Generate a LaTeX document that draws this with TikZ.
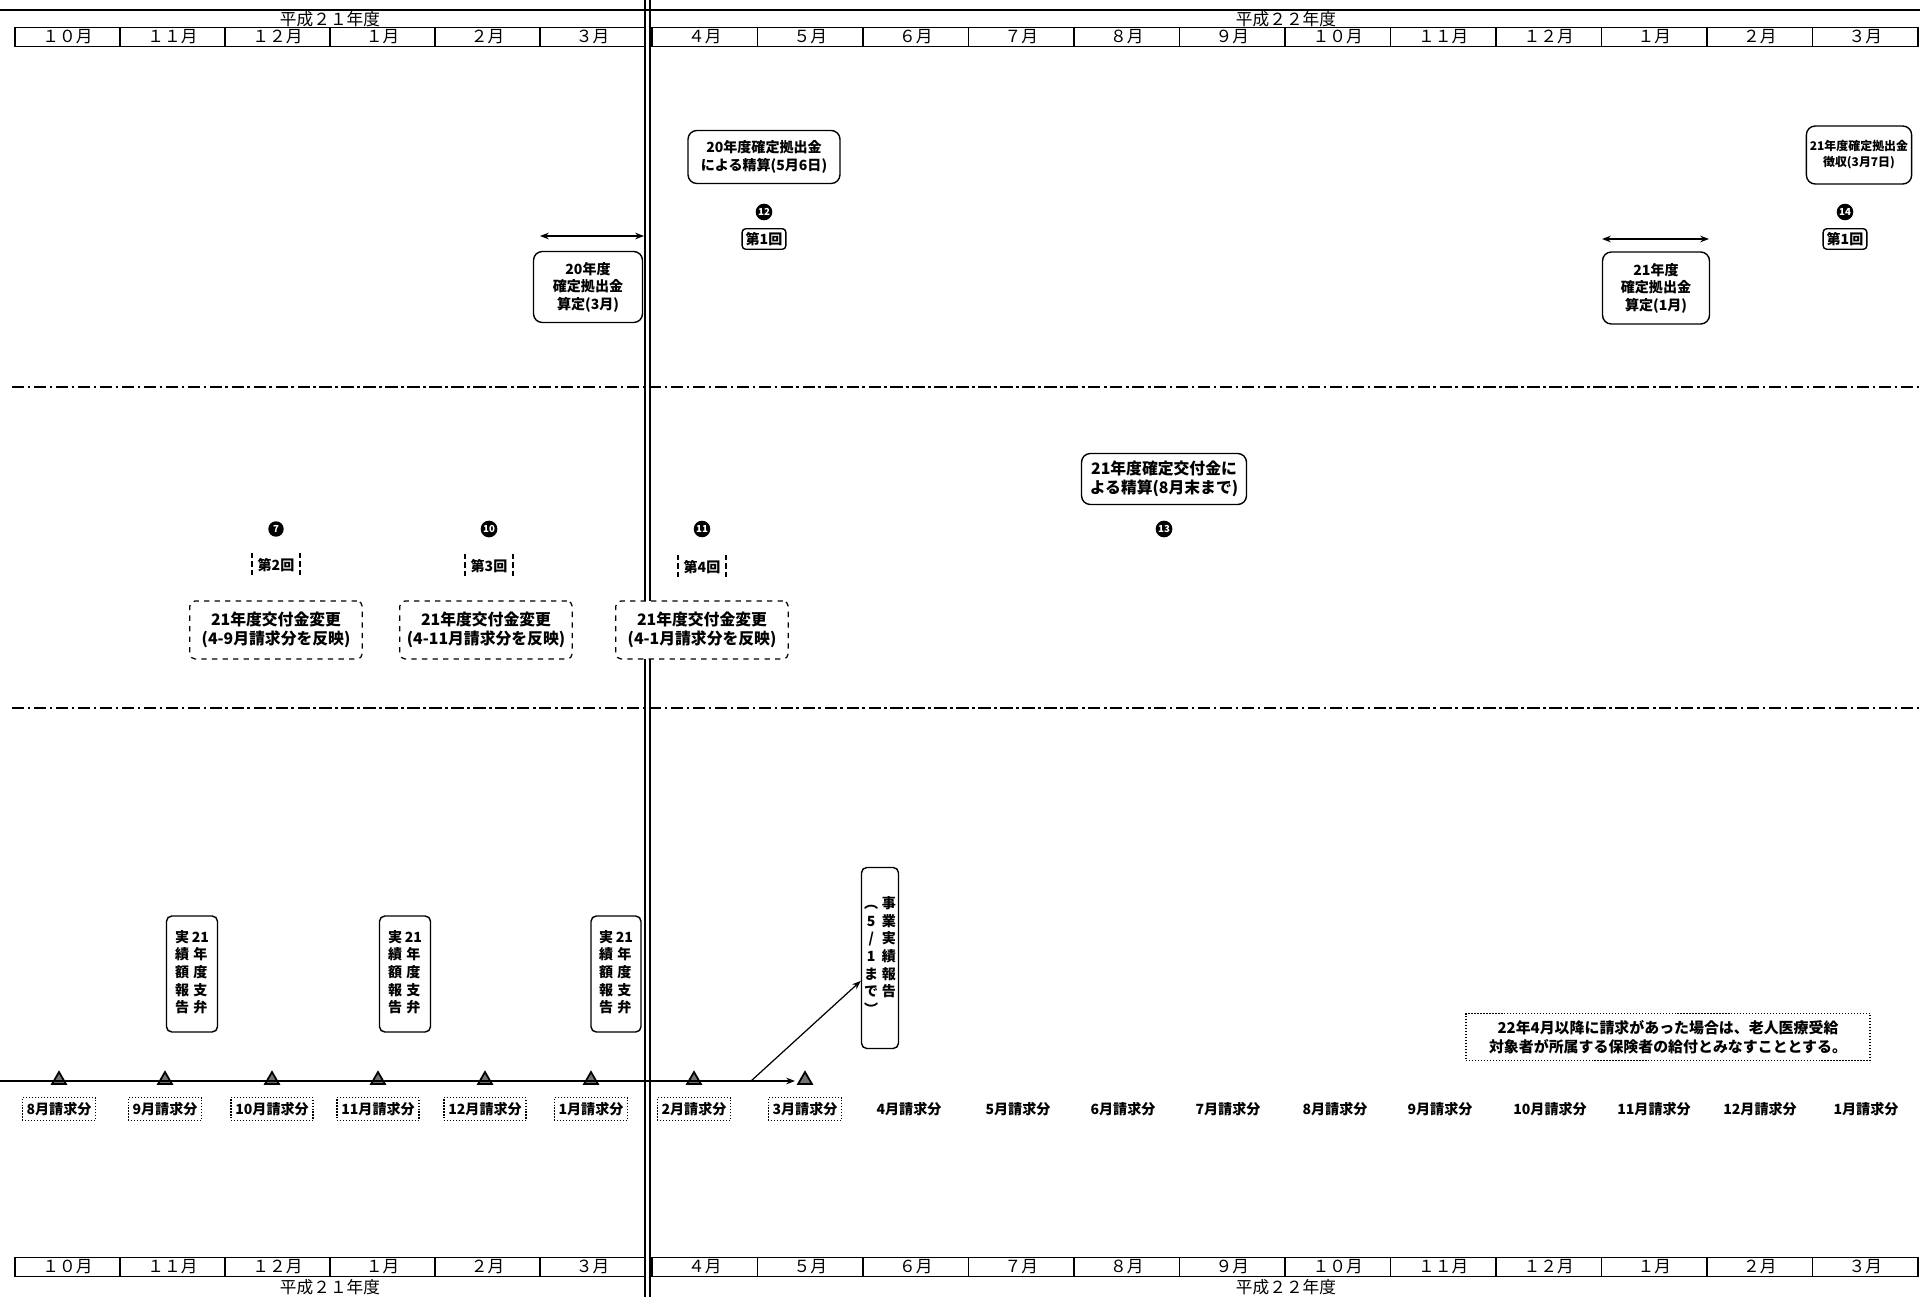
\documentclass[tikz,border=0pt]{standalone}
\usepackage{fontspec}
\setmainfont{Noto Sans CJK JP}
\usepackage{tikz}
\usetikzlibrary{arrows.meta}
\usetikzlibrary{shapes.geometric}

\tikzset{
  mes/.style={draw, line width=0.6pt, minimum width=2.1cm, minimum height=0.38cm, inner sep=0pt, font=\fontsize{9.5}{11}\selectfont},
  caja/.style={draw, fill=white, line width=0.8pt, rounded corners=5pt, align=center, inner sep=2pt, font=\bfseries\fontsize{8}{10}\selectfont},
  henko/.style={draw, fill=white, dashed, line width=0.7pt, rounded corners=3pt, align=center, minimum width=3.45cm, minimum height=1.16cm, font=\bfseries\fontsize{9}{11}\selectfont},
  vez/.style={draw, line width=0.8pt, rounded corners=2pt, inner sep=2pt, font=\bfseries\fontsize{8}{10}\selectfont},
  kai/.style={inner sep=3pt, font=\bfseries\fontsize{8}{10}\selectfont},
  num/.style={circle, draw, fill=black, text=white, line width=0.8pt, inner sep=0.3pt, minimum size=0.28cm, font=\bfseries\fontsize{5.5}{5.5}\selectfont},
  vert/.style={draw, fill=white, line width=0.8pt, rounded corners=3pt, inner sep=1.5pt, font=\bfseries\fontsize{8}{10}\selectfont},
  tri/.style={regular polygon, regular polygon sides=3, draw, fill=black!55, line width=1pt, minimum size=0.32cm, inner sep=0pt},
  seikyu/.style={draw, densely dotted, line width=0.7pt, inner sep=2.5pt, font=\bfseries\fontsize{8}{10}\selectfont},
  divisoria/.style={line width=1.2pt, dash pattern=on 7pt off 2pt on 1.5pt off 2pt}
}

\begin{document}
\begin{tikzpicture}[x=0.02cm, y=-0.02cm, >={Stealth[length=5pt]}]
\useasboundingbox (0,0) rectangle (1920,1297);

% Meses arriba y abajo
\draw[line width=0.8pt] (0,10) -- (1920,10);
\node[font=\fontsize{9.5}{11}\selectfont] (a21) at (330,19) {平成２１年度};
\node[font=\fontsize{9.5}{11}\selectfont] (a22) at (1286,19) {平成２２年度};
\node[font=\fontsize{9.5}{11}\selectfont] (b21) at (330,1287) {平成２１年度};
\node[font=\fontsize{9.5}{11}\selectfont] (b22) at (1286,1287) {平成２２年度};
\foreach \i/\m in {0/１０月,1/１１月,2/１２月,3/１月,4/２月,5/３月}{
  \node[mes] (tm\i) at (67.5+105*\i,37) {\m};
  \node[mes] (bm\i) at (67.5+105*\i,1267) {\m};
}
\foreach \j/\m in {0/４月,1/５月,2/６月,3/７月,4/８月,5/９月,6/１０月,7/１１月,8/１２月,9/１月,10/２月,11/３月}{
  \node[mes, minimum width=2.11cm] (tn\j) at (704.75+105.5*\j,37) {\m};
  \node[mes, minimum width=2.11cm] (bn\j) at (704.75+105.5*\j,1267) {\m};
}
\draw[line width=0.8pt] (645,0) -- (645,1297) (650,0) -- (650,1297);

\draw[divisoria] (12,387) -- (1920,387);
\draw[divisoria] (12,708) -- (1920,708);

% Arriba: 拠出金
\node[caja, minimum width=3.04cm, minimum height=1.06cm] (p20) at (764,157) {20年度確定拠出金\\による精算(5月6日)};
\node[num] (c12) at (764,212) {12};
\node[vez] (v1a) at (764,239) {第1回};
\node[caja, minimum width=2.18cm, minimum height=1.42cm] (s20) at (588,287) {20年度\\確定拠出金\\算定(3月)};
\coordinate (d1) at (540,236);
\coordinate (d2) at (644,236);

\node[caja, font=\bfseries\fontsize{6.8}{9}\selectfont, minimum width=2.04cm, minimum height=1.16cm] (c21) at (1859,155) {21年度確定拠出金\\徴収(3月7日)};
\node[num] (c14) at (1845,212) {14};
\node[vez] (v1b) at (1845,239) {第1回};
\node[caja, minimum width=2.14cm, minimum height=1.44cm] (s21) at (1656,288) {21年度\\確定拠出金\\算定(1月)};
\coordinate (d3) at (1602,239);
\coordinate (d4) at (1709,239);

% Medio: 交付金
\node[caja, font=\bfseries\fontsize{9}{11}\selectfont, minimum width=3.3cm, minimum height=1.02cm] (f21) at (1164,479) {21年度確定交付金に\\よる精算(8月末まで)};
\node[num] (c13) at (1164,529) {13};
\node[num] (c7) at (276,529) {7};
\node[num] (c10) at (489,529) {10};
\node[num] (c11) at (702,529) {11};
\node[kai] (k2) at (276,565) {第2回};
\node[kai] (k3) at (489,566) {第3回};
\node[kai] (k4) at (702,567) {第4回};
\node[henko] (h2) at (276,630) {21年度交付金変更\\(4-9月請求分を反映)};
\node[henko] (h3) at (486,630) {21年度交付金変更\\(4-11月請求分を反映)};
\node[henko] (h4) at (702,630) {21年度交付金変更\\(4-1月請求分を反映)};

% Abajo: 請求
\node[vert, minimum width=1.02cm, minimum height=2.32cm] (r1) at (192,974) {\begin{tabular}{@{}c@{\hspace{1.5pt}}c@{}}実&21\\績&年\\額&度\\報&支\\告&弁\end{tabular}};
\node[vert, minimum width=1.02cm, minimum height=2.32cm] (r2) at (405,974) {\begin{tabular}{@{}c@{\hspace{1.5pt}}c@{}}実&21\\績&年\\額&度\\報&支\\告&弁\end{tabular}};
\node[vert, minimum width=1.0cm, minimum height=2.32cm] (r3) at (616,974) {\begin{tabular}{@{}c@{\hspace{1.5pt}}c@{}}実&21\\績&年\\額&度\\報&支\\告&弁\end{tabular}};
\node[vert, minimum width=0.74cm, minimum height=3.62cm] (jg) at (880,958) {\begin{tabular}{@{}c@{\hspace{2pt}}c@{}}︵&事\\5&業\\/&実\\1&績\\ま&報\\で&告\\︶&\end{tabular}};

\coordinate (l0) at (0,1081);
\coordinate (l1) at (795,1081);
\coordinate (t0) at (751,1081);
\foreach \i/\x in {1/59,2/165,3/272,4/378,5/485,6/591,7/694,8/805}
  \node[tri] (tr\i) at (\x,1080) {};
\foreach \i/\x/\t in {1/59/8月請求分,2/165/9月請求分,3/272/10月請求分,4/378/11月請求分,5/485/12月請求分,6/591/1月請求分,7/694/2月請求分,8/805/3月請求分}
  \node[seikyu] (q\i) at (\x,1109) {\t};
\foreach \i/\x/\t in {9/909/4月請求分,10/1018/5月請求分,11/1123/6月請求分,12/1228/7月請求分,13/1335/8月請求分,14/1440/9月請求分,15/1550/10月請求分,16/1654/11月請求分,17/1760/12月請求分,18/1866/1月請求分}
  \node[kai] (q\i) at (\x,1109) {\t};

\node[draw, densely dotted, line width=0.7pt, align=center, minimum width=8.08cm, minimum height=0.94cm, font=\bfseries\fontsize{8.5}{10.5}\selectfont] (nt) at (1668,1037) {22年4月以降に請求があった場合は、老人医療受給\\対象者が所属する保険者の給付とみなすこととする。};

% Conexiones
\draw[<->, line width=1pt] (d1) -- (d2);
\draw[<->, line width=1pt] (d3) -- (d4);
\foreach \n in {k2,k3,k4}
  \draw[densely dashed, line width=0.7pt] (\n.north west) -- (\n.south west) (\n.north east) -- (\n.south east);
\draw[->, line width=1.2pt] (l0) -- (l1);
\draw[->, line width=0.7pt] (t0) -- (jg.230);

\end{tikzpicture}
\end{document}
